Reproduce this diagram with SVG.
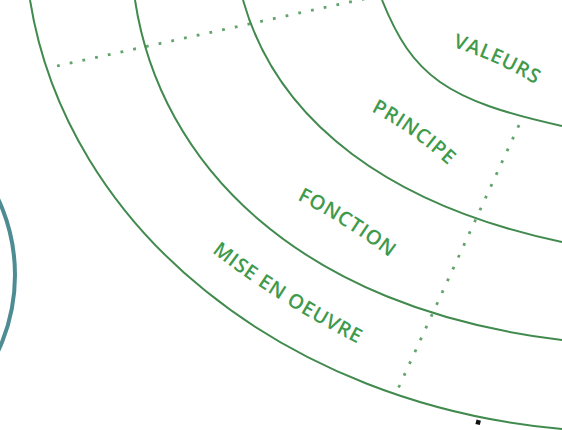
<svg xmlns="http://www.w3.org/2000/svg" xmlns:xlink="http://www.w3.org/1999/xlink" width="562" height="430" viewBox="0 0 562 430">
<style>
.arc{fill:none;stroke:#418a4e;stroke-width:2}
.dot{fill:none;stroke:#62a46b;stroke-width:2.8;stroke-dasharray:2.8 10.2}
.lbl{font-family:"Open Sans","Liberation Sans",sans-serif;font-size:20px;font-weight:600;fill:#3f9a4c;letter-spacing:0.8px}
</style>
<defs>
<path id="pVal" d="M 450 46 Q 498 61 538 86"/>
<path id="pPri" d="M 367 109 Q 411 131 452 169"/>
<path id="pFon" d="M 288 195 Q 344 222 398 264"/>
<path id="pMis" d="M 202 244 Q 270 300 370 350"/>
</defs>
<rect width="562" height="430" fill="#ffffff"/>
<g id="connectors">
<path class="dot" d="M 57 66 L 368 -2"/>
<path class="dot" d="M 519 125 L 397 391"/>
</g>
<g id="ring-valeurs">
<path class="arc" d="M382,0 C412.5,76.2 446.2,100.5 562,126"/>
<text class="lbl"><textPath xlink:href="#pVal" href="#pVal" startOffset="50%" text-anchor="middle">VALEURS</textPath></text>
</g>
<g id="ring-principe">
<path class="arc" d="M243,0 C277.7,123.6 392.6,206.4 562,242"/>
<text class="lbl"><textPath xlink:href="#pPri" href="#pPri" startOffset="50%" text-anchor="middle">PRINCIPE</textPath></text>
</g>
<g id="ring-fonction">
<path class="arc" d="M135,0 C159.4,162.6 296.3,308.1 562,340"/>
<text class="lbl"><textPath xlink:href="#pFon" href="#pFon" startOffset="50%" text-anchor="middle">FONCTION</textPath></text>
</g>
<g id="ring-mise">
<path class="arc" d="M30,0 C66.5,227.9 283,404 562,429"/>
<text class="lbl"><textPath xlink:href="#pMis" href="#pMis" startOffset="50%" text-anchor="middle">MISE EN OEUVRE</textPath></text>
</g>
<g id="teal-circle">
<circle cx="-165" cy="275" r="180" fill="none" stroke="#4e8c94" stroke-width="4"/>
</g>
<g id="marker-dot">
<rect x="476" y="420" width="4.5" height="4.5" fill="#111" transform="rotate(15 478 422)"/>
</g>
</svg>
